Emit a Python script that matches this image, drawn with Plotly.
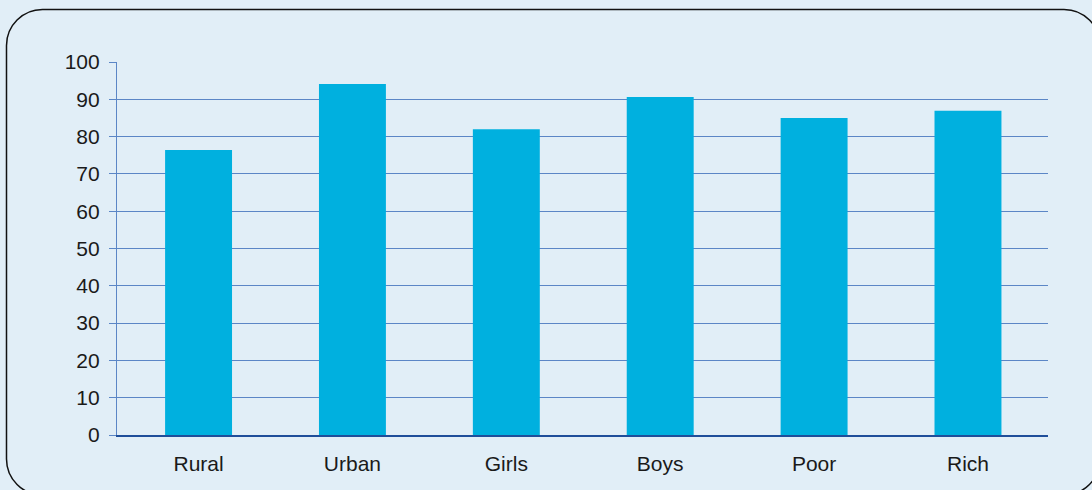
import plotly.graph_objects as go

categories = ["Rural", "Urban", "Girls", "Boys", "Poor", "Rich"]
values = [76.4, 94.1, 82.0, 90.6, 85.0, 86.9]
y_ticks = [0, 10, 20, 30, 40, 50, 60, 70, 80, 90, 100]

W, H = 1092, 490
ML, MR, MT, MB = 117, 44, 62, 55
PW, PH = W - ML - MR, H - MT - MB

def px(x):
    return (x - ML) / PW

def py(y):
    return (H - MB - y) / PH

# rounded frame (pixel coordinates converted to paper units)
x0, y0, x1, y1, r = 6.5, 9.5, 1100, 495, 36
k = 0.5523 * r
pts = [
    ("M", [(x0 + r, y0)]),
    ("L", [(x1 - r, y0)]),
    ("C", [(x1 - r + k, y0), (x1, y0 + r - k), (x1, y0 + r)]),
    ("L", [(x1, y1 - r)]),
    ("C", [(x1, y1 - r + k), (x1 - r + k, y1), (x1 - r, y1)]),
    ("L", [(x0 + r, y1)]),
    ("C", [(x0 + r - k, y1), (x0, y1 - r + k), (x0, y1 - r)]),
    ("L", [(x0, y0 + r)]),
    ("C", [(x0, y0 + r - k), (x0 + r - k, y0), (x0 + r, y0)]),
]
path = ""
for cmd, ps in pts:
    path += cmd + " " + " ".join(f"{px(a):.5f},{py(b):.5f}" for a, b in ps) + " "
path += "Z"

fig = go.Figure()
fig.add_trace(go.Bar(
    x=list(range(len(categories))),
    y=values,
    width=0.435,
    marker=dict(color="#00B0DF", line=dict(width=0)),
    hoverinfo="x+y",
))

grid_col = "#5B86C6"
fig.update_layout(
    width=W, height=H,
    margin=dict(l=ML, r=MR, t=MT, b=MB, pad=0),
    paper_bgcolor="#E1EEF7",
    plot_bgcolor="#E1EEF7",
    showlegend=False,
    font=dict(family="Liberation Sans, Arial, sans-serif", size=21, color="#1A1A1A"),
    xaxis=dict(
        range=[-0.53, 5.52],
        tickmode="array",
        tickvals=list(range(len(categories))),
        ticktext=categories,
        showgrid=False,
        zeroline=False,
        showline=True,
        linecolor="#1F4E9A",
        linewidth=1.5,
        ticks="",
        ticklabelstandoff=9,
        fixedrange=True,
    ),
    yaxis=dict(
        range=[0, 100],
        tickmode="array",
        tickvals=y_ticks,
        ticktext=[str(v) for v in y_ticks],
        showgrid=True,
        gridcolor=grid_col,
        gridwidth=1.2,
        zeroline=False,
        showline=True,
        linecolor=grid_col,
        linewidth=1.2,
        ticks="outside",
        ticklen=7,
        tickcolor=grid_col,
        tickwidth=1.2,
        ticklabelstandoff=5,
        fixedrange=True,
    ),
    shapes=[dict(
        type="path", path=path, xref="paper", yref="paper",
        line=dict(color="#111111", width=1.5), fillcolor="rgba(0,0,0,0)",
        layer="below",
    )],
)

fig.write_html("out.html")
